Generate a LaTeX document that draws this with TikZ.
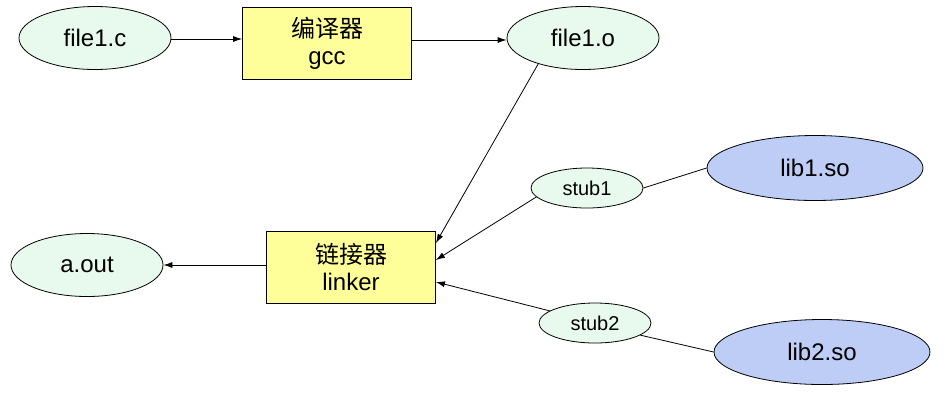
\documentclass[tikz,border=0pt]{standalone}
\usepackage{fontspec}
\setmainfont{Liberation Sans}
\newfontfamily\cjk{Noto Sans CJK SC}
\usetikzlibrary{arrows.meta,positioning,calc,shapes.geometric}
\definecolor{srcGreen}{RGB}{232,250,238}
\definecolor{libBlue}{RGB}{190,205,245}
\definecolor{toolYellow}{RGB}{255,255,153}

\begin{document}
\begin{tikzpicture}[x=1pt, y=-1pt, line width=0.8pt,
    file/.style={ellipse, draw, fill=srcGreen, inner sep=0pt,
      minimum width=152pt, minimum height=63pt, font=\fontsize{24}{28}\selectfont},
    stubfile/.style={file, minimum width=112pt, minimum height=40pt,
      font=\fontsize{20}{24}\selectfont},
    libfile/.style={file, fill=libBlue, minimum width=216pt, minimum height=65pt},
    tool/.style={draw, fill=toolYellow, minimum width=169pt, minimum height=72pt,
      align=center, font=\fontsize{24}{27}\selectfont},
    flow/.style={-{Latex[length=9pt,width=6pt]}}]
    \useasboundingbox (0,0) rectangle (949,413);
    % compile step
    \node[file] (f1c) at (95,38) {file1.c};
    \node[tool] (gcc) at (327,43) {{\cjk 编译器}\\gcc};
    \node[file] (f1o) at (583,38) {file1.o};
    % link step
    \node[tool] (linker) at (351,267) {{\cjk 链接器}\\linker};
    \node[file] (aout) at (87,265) {a.out};
    % shared libraries and their stubs
    \node[stubfile] (stub1) at (587,188) {stub1};
    \node[libfile] (lib1) at (815,168) {lib1.so};
    \node[stubfile] (stub2) at (595,323) {stub2};
    \node[libfile] (lib2) at (822,352) {lib2.so};
    % inputs on the linker's right side
    \coordinate (in1) at ($(linker.east)+(0,-24)$);
    \coordinate (in2) at ($(linker.east)+(0,-7)$);
    \coordinate (in3) at ($(linker.east)+(0,15)$);
    % connectors
    \draw[flow] (f1c.east |- 0,39) -- (gcc.west |- 0,39);
    \draw[flow] (gcc.east |- 0,40) -- (f1o.west |- 0,40);
    \draw[flow] (f1o.210) -- (in1);
    \draw[flow] (stub1.190) -- (in2);
    \draw[flow] (stub2.165) -- (in3);
    \draw[flow] (linker.west |- aout.east) -- (aout.east);
    \draw (stub1.east) -- (lib1.west);
    \draw (stub2.345) -- (lib2.west);
  \end{tikzpicture}
\end{document}
